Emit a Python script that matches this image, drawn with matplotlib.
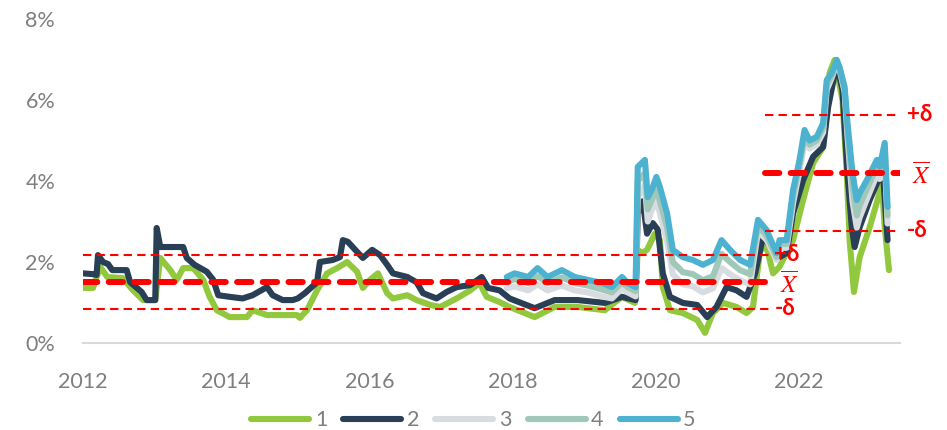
import numpy as np
import matplotlib
matplotlib.use("Agg")
import matplotlib.pyplot as plt

# --- data ---
years_1 = [2012.00, 2012.14, 2012.24, 2012.34, 2012.56, 2012.70, 2012.84, 2013.01, 2013.08, 2013.22,
           2013.31, 2013.40, 2013.54, 2013.68, 2013.77, 2013.87, 2014.05, 2014.29, 2014.37, 2014.57,
           2014.79, 2014.99, 2015.03, 2015.13, 2015.27, 2015.41, 2015.55, 2015.69, 2015.83, 2015.91,
           2016.01, 2016.12, 2016.25, 2016.33, 2016.53, 2016.66, 2016.85, 2016.99, 2017.22, 2017.41,
           2017.54, 2017.64, 2017.82, 2017.96, 2018.31, 2018.59, 2018.91, 2019.29, 2019.53, 2019.71,
           2019.75, 2019.81, 2019.88, 2019.99, 2020.06, 2020.10, 2020.20, 2020.38, 2020.58, 2020.69,
           2020.80, 2020.94, 2021.13, 2021.27, 2021.36, 2021.46, 2021.55, 2021.64, 2021.73, 2021.92,
           2022.06, 2022.20, 2022.34, 2022.43, 2022.50, 2022.61, 2022.67, 2022.71, 2022.77, 2022.85,
           2022.99, 2023.10, 2023.16, 2023.20, 2023.26]
series_1 = [1.36, 1.36, 1.88, 1.63, 1.60, 1.30, 1.06, 1.06, 2.10, 1.80,
            1.56, 1.85, 1.85, 1.56, 1.14, 0.81, 0.64, 0.64, 0.81, 0.69,
            0.69, 0.69, 0.62, 0.81, 1.30, 1.72, 1.85, 2.00, 1.76, 1.36,
            1.56, 1.72, 1.23, 1.10, 1.18, 1.06, 0.94, 0.89, 1.10, 1.30,
            1.48, 1.14, 1.01, 0.89, 0.64, 0.89, 0.89, 0.81, 1.14, 0.99,
            2.30, 2.22, 2.30, 2.70, 2.54, 1.38, 0.81, 0.74, 0.57, 0.25,
            0.74, 0.99, 0.89, 0.74, 0.89, 2.30, 2.37, 1.72, 1.88, 2.54,
            3.53, 4.44, 4.84, 6.67, 6.99, 6.00, 4.20, 2.54, 1.26, 2.12,
            2.86, 3.53, 3.95, 2.86, 1.80]

years_2 = [2012.00, 2012.14, 2012.19, 2012.21, 2012.28, 2012.35, 2012.41, 2012.61, 2012.66, 2012.82,
           2012.89, 2013.01, 2013.03, 2013.08, 2013.40, 2013.45, 2013.56, 2013.73, 2013.82, 2013.89,
           2014.05, 2014.23, 2014.37, 2014.57, 2014.65, 2014.79, 2014.93, 2015.00, 2015.10, 2015.27,
           2015.31, 2015.49, 2015.59, 2015.63, 2015.70, 2015.83, 2015.91, 2016.04, 2016.15, 2016.25,
           2016.33, 2016.53, 2016.66, 2016.75, 2016.94, 2017.08, 2017.22, 2017.41, 2017.57, 2017.66,
           2017.82, 2017.96, 2018.31, 2018.59, 2018.91, 2019.29, 2019.53, 2019.72, 2019.75, 2019.82,
           2019.88, 2019.96, 2020.03, 2020.10, 2020.20, 2020.38, 2020.58, 2020.72, 2020.85, 2020.99,
           2021.13, 2021.27, 2021.39, 2021.50, 2021.64, 2021.73, 2021.83, 2021.92, 2022.06, 2022.20,
           2022.34, 2022.41, 2022.53, 2022.61, 2022.68, 2022.74, 2022.78, 2022.85, 2022.99, 2023.13,
           2023.17, 2023.24]
series_2 = [1.72, 1.70, 1.68, 2.17, 2.00, 1.95, 1.80, 1.80, 1.50, 1.26,
            1.06, 1.06, 2.84, 2.37, 2.37, 2.10, 1.93, 1.76, 1.56, 1.18,
            1.14, 1.10, 1.18, 1.38, 1.18, 1.06, 1.06, 1.10, 1.23, 1.50,
            2.00, 2.05, 2.12, 2.54, 2.50, 2.25, 2.10, 2.30, 2.17, 1.93,
            1.72, 1.63, 1.50, 1.23, 1.10, 1.26, 1.38, 1.43, 1.63, 1.36,
            1.30, 1.10, 0.86, 1.06, 1.06, 0.99, 1.14, 1.06, 3.20, 3.50,
            2.70, 2.96, 2.80, 1.72, 1.14, 0.99, 0.94, 0.64, 0.89, 1.38,
            1.30, 1.14, 1.72, 2.62, 2.30, 2.12, 2.22, 3.20, 4.02, 4.60,
            4.84, 5.83, 6.90, 6.25, 4.20, 2.86, 2.37, 2.86, 3.53, 4.10,
            4.35, 2.54]

years_345 = [2017.92, 2018.03, 2018.22, 2018.35, 2018.49, 2018.69, 2018.87, 2019.05, 2019.25, 2019.39,
             2019.53, 2019.61, 2019.72, 2019.75, 2019.85, 2019.89, 2019.95, 2020.01, 2020.06, 2020.16,
             2020.24, 2020.38, 2020.52, 2020.66, 2020.80, 2020.92, 2021.04, 2021.18, 2021.32, 2021.43,
             2021.55, 2021.59, 2021.69, 2021.73, 2021.83, 2021.92, 2022.01, 2022.08, 2022.15, 2022.25,
             2022.34, 2022.39, 2022.46, 2022.53, 2022.57, 2022.64, 2022.68, 2022.75, 2022.81, 2022.85,
             2022.95, 2023.09, 2023.13, 2023.20, 2023.24]
series_3 = [1.35, 1.40, 1.30, 1.45, 1.30, 1.42, 1.30, 1.25, 1.15, 1.10,
            1.35, 1.25, 1.15, 3.60, 3.90, 3.00, 3.30, 3.50, 3.20, 2.50,
            1.70, 1.45, 1.40, 1.25, 1.35, 1.85, 1.70, 1.55, 1.45, 2.75,
            2.55, 2.40, 2.05, 2.35, 2.35, 3.45, 4.25, 4.95, 4.80, 4.90,
            5.20, 6.25, 6.55, 6.90, 6.75, 6.20, 5.10, 3.50, 2.85, 3.10,
            3.55, 4.15, 4.05, 4.60, 2.95]
series_4 = [1.50, 1.58, 1.48, 1.65, 1.48, 1.62, 1.48, 1.42, 1.32, 1.25,
            1.50, 1.38, 1.28, 4.00, 4.20, 3.30, 3.55, 3.80, 3.50, 2.85,
            2.00, 1.75, 1.70, 1.55, 1.65, 2.20, 2.00, 1.80, 1.70, 2.90,
            2.65, 2.50, 2.12, 2.45, 2.45, 3.62, 4.40, 5.10, 4.90, 5.00,
            5.32, 6.38, 6.60, 6.95, 6.78, 6.26, 5.25, 3.85, 3.15, 3.40,
            3.80, 4.35, 4.20, 4.78, 3.15]
series_5 = [1.63, 1.72, 1.63, 1.85, 1.63, 1.80, 1.63, 1.56, 1.48, 1.38,
            1.63, 1.48, 1.38, 4.35, 4.52, 3.60, 3.80, 4.10, 3.85, 3.20,
            2.30, 2.12, 2.05, 1.93, 2.05, 2.54, 2.30, 2.05, 1.93, 3.04,
            2.79, 2.62, 2.22, 2.54, 2.54, 3.78, 4.52, 5.26, 5.00, 5.09,
            5.43, 6.49, 6.67, 6.99, 6.81, 6.32, 5.43, 4.20, 3.53, 3.70,
            4.02, 4.52, 4.35, 4.94, 3.36]

# regime bands: (start, end, mean, delta)
regime_start = [2012.0, 2021.53]
regime_end = [2021.60, 2023.45]
regime_mean = [1.51, 4.20]
regime_delta = [0.67, 1.43]

labels = ["1", "2", "3", "4", "5"]
colors = ["#92c83e", "#283f55", "#d8dce0", "#9fc8b9", "#4cb2d0"]
tick_years = [2012, 2014, 2016, 2018, 2020, 2022]
ytick_vals = [0, 2, 4, 6, 8]

plt.rcParams["font.family"] = ["Lato", "DejaVu Sans"]
plt.rcParams["mathtext.fontset"] = "stix"

fig = plt.figure(figsize=(9.47, 4.30), dpi=100)
ax = fig.add_axes([0.0876, 0.2023, 0.8625, 0.7535])

xs = [years_1, years_2, years_345, years_345, years_345]
ys = [series_1, series_2, series_3, series_4, series_5]
for x, y, lab, c in zip(xs, ys, labels, colors):
    ax.plot(x, y, color=c, lw=4.4, label=lab, solid_capstyle="round",
            solid_joinstyle="round")

red = "#ff0000"
for s, e, m, d in zip(regime_start, regime_end, regime_mean, regime_delta):
    ax.plot([s, e], [m + d, m + d], color=red, lw=1.5, dashes=(4, 2.5))
    ax.plot([s, e], [m - d, m - d], color=red, lw=1.5, dashes=(4, 2.5))
    ax.plot([s, e], [m, m], color=red, lw=4.3, dashes=(2.4, 1.9),
            dash_capstyle="round")
    ax.annotate("+δ", xy=(e, m + d), xytext=(3, 0), textcoords="offset points",
                ha="left", va="center", color=red, fontsize=16, fontweight="bold",
                annotation_clip=False)
    ax.annotate(r"$\overline{X}$", xy=(e, m), xytext=(7, -1), textcoords="offset points",
                ha="left", va="center", color=red, fontsize=18,
                annotation_clip=False)
    ax.annotate("-δ", xy=(e, m - d), xytext=(3, 0), textcoords="offset points",
                ha="left", va="center", color=red, fontsize=16, fontweight="bold",
                annotation_clip=False)

ax.set_xlim(2012.0, 2023.41)
ax.set_ylim(0, 8)
ax.set_xticks(tick_years)
ax.set_xticklabels([str(t) for t in tick_years])
ax.set_yticks(ytick_vals)
ax.set_yticklabels([f"{v}%" for v in ytick_vals])

for side in ["top", "right", "left"]:
    ax.spines[side].set_visible(False)
ax.spines["bottom"].set_color("#d9d9d9")
ax.spines["bottom"].set_linewidth(1.5)
ax.tick_params(axis="both", length=0, labelsize=15.5, labelcolor="#7f7f7f")
ax.tick_params(axis="x", pad=21)
ax.tick_params(axis="y", pad=20)

fig.legend(loc="center", bbox_to_anchor=(0.5, 0.023), ncol=5, frameon=False,
           fontsize=15.5, labelcolor="#7f7f7f", handlelength=2.7, handletextpad=0.25,
           columnspacing=0.75)

fig.savefig("out.png", dpi=100)
